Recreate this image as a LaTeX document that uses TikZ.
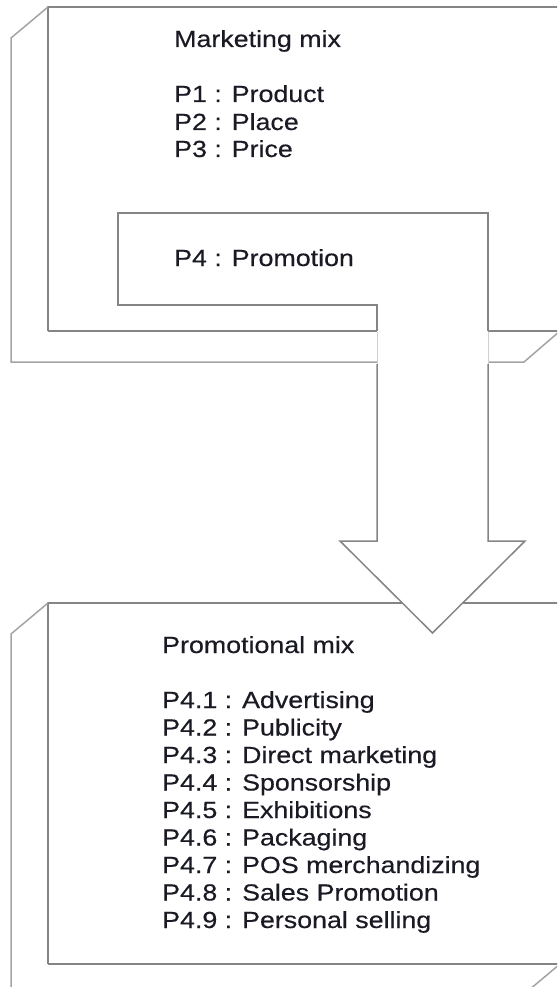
\documentclass[tikz,border=0pt]{standalone}
\usepackage{fontspec}
\setmainfont{Liberation Sans}[FakeStretch=1.15,FakeBold=0.4]
\definecolor{edgefront}{HTML}{858585}
\definecolor{edgeback}{HTML}{A4A4A4}
\definecolor{edgehidden}{HTML}{D0D0D0}
\definecolor{inktext}{HTML}{1A1A24}
\begin{document}
\begin{tikzpicture}[x=1pt,y=-1pt,
  frontline/.style={draw=edgefront,line width=1.5pt,line join=miter},
  backline/.style={draw=edgeback,line width=1.5pt,line join=miter},
  hiddenline/.style={draw=edgehidden,line width=1pt},
  label/.style={anchor=base west,inner sep=0pt,text=inktext,
    font=\fontsize{23.3}{27.5}\selectfont}]
\useasboundingbox (0,0) rectangle (557,987);
\clip (0,0) rectangle (557,987);

% upper slab: front face and its depth edges
\draw[frontline] (48,331) -- (48,7) -- (560,7);
\draw[frontline] (48,331) -- (560,331);
\draw[backline] (48,7) -- (11,38) -- (11,362) -- (524,362) -- (560,331);

% lower slab
\draw[frontline] (48,964) -- (48,603) -- (560,603);
\draw[frontline] (48,964) -- (560,964);
\draw[backline] (48,603) -- (11,634) -- (11,995);
\draw[backline] (560,964) -- (523,995);

% arrow leaving the upper slab
\fill[white] (118,213) -- (488,213) -- (488,541) -- (525,541) -- (432.5,633)
  -- (340,541) -- (377,541) -- (377,305) -- (118,305) -- cycle;
\draw[frontline] (377,331) -- (377,305) -- (118,305) -- (118,213) -- (488,213) -- (488,331);
\draw[hiddenline] (377,332) -- (377,364);
\draw[hiddenline] (488,332) -- (488,364);
\draw[frontline] (377,364) -- (377,541) -- (340,541) -- (432.5,633) -- (525,541)
  -- (488,541) -- (488,364);

% marketing mix
\node[label] (mmtitle) at (174,47) {Marketing mix};
\node[label] (pone)   at (174,102) {P1 : Product};
\node[label] (ptwo)   at (174,130) {P2 : Place};
\node[label] (pthree) at (174,157) {P3 : Price};
\node[label] (pfour)  at (174,266) {P4 : Promotion};

% promotional mix
\node[label] (pmtitle) at (162,653) {Promotional mix};
\node[label] (pa) at (162,708.0) {P4.1 : Advertising};
\node[label] (pb) at (162,735.5) {P4.2 : Publicity};
\node[label] (pc) at (162,763.0) {P4.3 : Direct marketing};
\node[label] (pd) at (162,790.5) {P4.4 : Sponsorship};
\node[label] (pe) at (162,818.0) {P4.5 : Exhibitions};
\node[label] (pf) at (162,845.5) {P4.6 : Packaging};
\node[label] (pg) at (162,873.0) {P4.7 : POS merchandizing};
\node[label] (ph) at (162,900.5) {P4.8 : Sales Promotion};
\node[label] (pi) at (162,928.0) {P4.9 : Personal selling};
\end{tikzpicture}
\end{document}
